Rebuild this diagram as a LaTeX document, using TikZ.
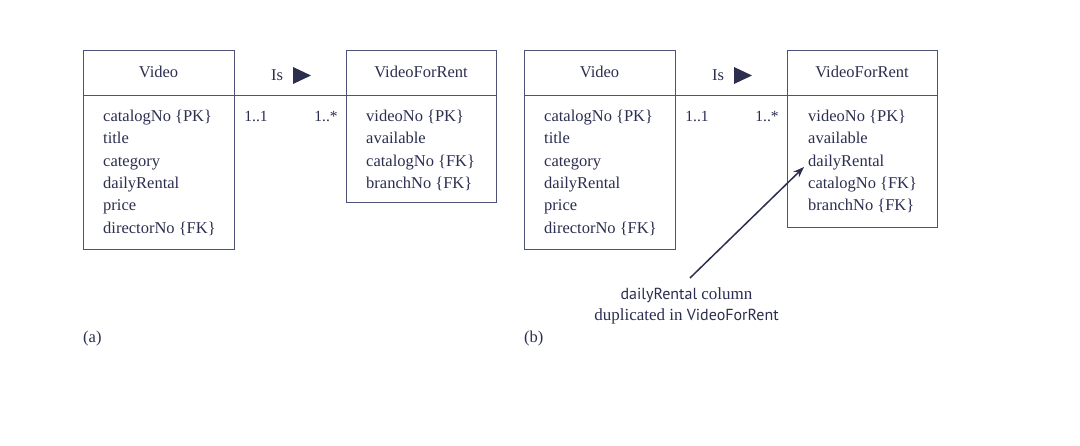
\documentclass[tikz,border=0pt]{standalone}
\usepackage{fontspec}
\usetikzlibrary{arrows.meta}
\setmainfont{Liberation Serif}
\newfontfamily\annsans{PT Sans}
\definecolor{ink}{HTML}{2B2E4F}
\definecolor{lin}{HTML}{4E5178}
\begin{document}
\begin{tikzpicture}[x=1pt,y=-1pt,
  box/.style={draw=lin, line width=1pt, rectangle, inner sep=0pt},
  sep/.style={draw=lin, line width=1pt},
  hdtext/.style={text=ink, font=\fontsize{16.5}{19}\selectfont, inner sep=0pt},
  attr/.style={text=ink, font=\fontsize{16.5}{22.3}\selectfont, align=left, anchor=north west, inner sep=0pt},
  mult/.style={text=ink, font=\fontsize{15.5}{18}\selectfont, inner sep=0pt},
  tri/.style={fill=ink, draw=none},
  lbl/.style={text=ink, font=\fontsize{16.5}{19}\selectfont, inner sep=0pt}]
\useasboundingbox (0,0) rectangle (1080,446);
% ---------- (a) ----------
\node[box, minimum width=151pt, minimum height=199pt] (va) at (158.5,150.5) {};
\node[box, minimum width=150pt, minimum height=152pt] (ra) at (421,127) {};
\coordinate (ha) at (0,96);
\draw[sep] (va.west |- ha) -- (va.east |- ha);
\draw[sep] (ra.west |- ha) -- (ra.east |- ha);
\draw[sep] (va.east |- ha) -- (ra.west |- ha);
\node[hdtext] (vat) at (158.5,72) {Video};
\node[hdtext] (rat) at (421,72) {VideoForRent};
\node[attr] (vaa) at (103,110) {catalogNo \{PK\}\\title\\category\\dailyRental\\price\\directorNo \{FK\}};
\node[attr] (raa) at (366,110) {videoNo \{PK\}\\available\\catalogNo \{FK\}\\branchNo \{FK\}};
\node[lbl] (isa) at (277,75) {Is};
\coordinate (tra) at (302,75.5);
\fill[tri] (tra) ++(-9,-8.5) -- ++(18,8.5) -- ++(-18,8.5) -- cycle;
\node[mult] (m1a) at (256,116) {1..1};
\node[mult] (m2a) at (326,116) {1..*};
\node[lbl, anchor=west] (capa) at (83,339) {(a)};
% ---------- (b) ----------
\node[box, minimum width=151pt, minimum height=199pt] (vb) at (599.5,150.5) {};
\node[box, minimum width=150pt, minimum height=177pt] (rb) at (862,139.5) {};
\draw[sep] (vb.west |- ha) -- (vb.east |- ha);
\draw[sep] (rb.west |- ha) -- (rb.east |- ha);
\draw[sep] (vb.east |- ha) -- (rb.west |- ha);
\node[hdtext] (vbt) at (599.5,72) {Video};
\node[hdtext] (rbt) at (862,72) {VideoForRent};
\node[attr] (vba) at (544,110) {catalogNo \{PK\}\\title\\category\\dailyRental\\price\\directorNo \{FK\}};
\node[attr] (rba) at (808,110) {videoNo \{PK\}\\available\\dailyRental\\catalogNo \{FK\}\\branchNo \{FK\}};
\node[lbl] (isb) at (718,75) {Is};
\coordinate (trb) at (743,75.5);
\fill[tri] (trb) ++(-9,-8.5) -- ++(18,8.5) -- ++(-18,8.5) -- cycle;
\node[mult] (m1b) at (697,116) {1..1};
\node[mult] (m2b) at (767,116) {1..*};
\node[lbl, anchor=west] (capb) at (524,339) {(b)};
\node[text=ink, align=center, inner sep=0pt, font=\fontsize{17}{21}\selectfont] (note) at (686.5,306)
  {{\annsans\fontsize{16}{21}\selectfont dailyRental} column\\duplicated in {\annsans\fontsize{16}{21}\selectfont VideoForRent}};
\coordinate (nt) at (690,278);
\coordinate (dr) at (804,167);
\draw[ink, line width=1.5pt, -{Stealth[length=11pt,width=8pt]}] (nt) -- (dr);
\end{tikzpicture}
\end{document}
